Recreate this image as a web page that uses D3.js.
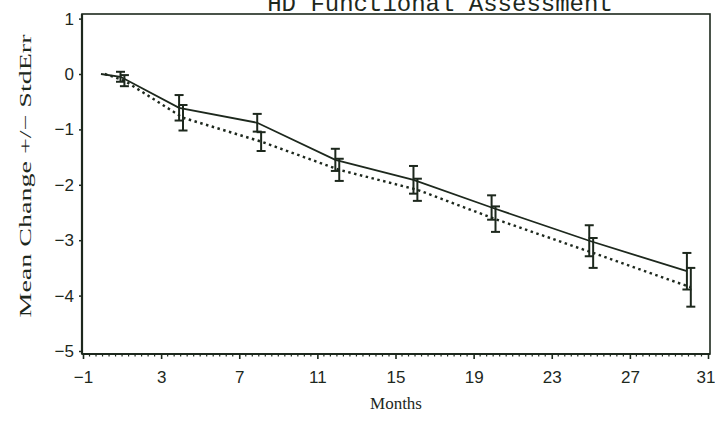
<!DOCTYPE html>
<html>
<head>
<meta charset="utf-8">
<script src="https://cdn.jsdelivr.net/npm/d3@7"></script>
<style>
  html, body { margin: 0; padding: 0; background: #fff; }
  svg { display: block; }
</style>
</head>
<body>
<svg id="chart" width="715" height="421"></svg>
<script>
// ---- data ----
const months = [0, 1, 4, 8, 12, 16, 20, 25, 30];
const solidMean = [0, -0.05, -0.61, -0.88, -1.55, -1.91, -2.41, -3.01, -3.56];
const solidSE   = [0, 0.09, 0.23, 0.16, 0.20, 0.25, 0.22, 0.28, 0.33];
const dottedMean = [0, -0.12, -0.79, -1.22, -1.73, -2.09, -2.62, -3.23, -3.85];
const dottedSE   = [0, 0.10, 0.23, 0.17, 0.20, 0.20, 0.23, 0.27, 0.35];
const xTicks = [-1, 3, 7, 11, 15, 19, 23, 27, 31];
const yTicks = [1, 0, -1, -2, -3, -4, -5];
const titleText = "HD Functional Assessment";
const xLabel = "Months";
const yLabel = "Mean Change +/\u2212 StdErr";

// ---- layout / style ----
const ink = "#1d281d";
const frame = { left: 82, right: 710, top: 14, bottom: 354 };
const svg = d3.select("#chart");

const x = d3.scaleLinear().domain([-1, 31]).range([83, 708]);
const y = d3.scaleLinear().domain([-5, 1]).range([351, 18.6]);

// title (partly cut off at the top, as in the reference)
svg.append("text")
  .attr("x", 440).attr("y", 11)
  .attr("text-anchor", "middle")
  .attr("font-family", "'Courier New', 'Liberation Mono', monospace")
  .attr("font-size", 24)
  .attr("fill", ink)
  .text(titleText);

// frame
svg.append("rect")
  .attr("x", frame.left).attr("y", frame.top)
  .attr("width", frame.right - frame.left).attr("height", frame.bottom - frame.top)
  .attr("fill", "none").attr("stroke", ink).attr("stroke-width", 1.6);
svg.append("line").attr("x1", frame.left).attr("x2", frame.left)
  .attr("y1", frame.top).attr("y2", frame.bottom)
  .attr("stroke", ink).attr("stroke-width", 2.2);
svg.append("line").attr("x1", frame.left).attr("x2", frame.right)
  .attr("y1", frame.bottom).attr("y2", frame.bottom)
  .attr("stroke", ink).attr("stroke-width", 2.2);

// y axis
const yAxis = d3.axisLeft(y).tickValues(yTicks).tickSize(3).tickPadding(5)
  .tickFormat(d => d < 0 ? "\u2212" + Math.abs(d) : String(d));
const gy = svg.append("g").attr("transform", `translate(${frame.left},0)`).call(yAxis);
gy.select(".domain").remove();
gy.selectAll("line").attr("stroke", ink).attr("stroke-width", 1.5);
gy.selectAll("text").attr("font-family", "'Liberation Sans', Arial, sans-serif")
  .attr("font-size", 17).attr("fill", ink);

// x axis minor ticks (every 1/3 month)
const minor = d3.range(-1, 31.001, 1 / 3).filter(v => Math.abs((v + 1) / 4 - Math.round((v + 1) / 4)) > 1e-6);
svg.append("g").selectAll("line").data(minor).join("line")
  .attr("x1", d => x(d)).attr("x2", d => x(d))
  .attr("y1", frame.bottom).attr("y2", frame.bottom + 2.5)
  .attr("stroke", ink).attr("stroke-width", 1.2);

// x axis major ticks
const xAxis = d3.axisBottom(x).tickValues(xTicks).tickSize(5).tickPadding(12)
  .tickFormat(d => d < 0 ? "\u2212" + Math.abs(d) : String(d));
const gx = svg.append("g").attr("transform", `translate(0,${frame.bottom})`).call(xAxis);
gx.select(".domain").remove();
gx.selectAll("line").attr("stroke", ink).attr("stroke-width", 1.6);
gx.selectAll("text").attr("font-family", "'Liberation Sans', Arial, sans-serif")
  .attr("font-size", 17).attr("fill", ink);
gx.selectAll(".tick").filter(d => d === 31).select("text").attr("text-anchor", "end").attr("dx", 7);

// axis titles
svg.append("text")
  .attr("x", 396).attr("y", 409)
  .attr("text-anchor", "middle")
  .attr("font-family", "'Liberation Serif', 'Times New Roman', serif")
  .attr("font-size", 17).attr("fill", ink)
  .text(xLabel);

svg.append("text")
  .attr("transform", "translate(31,176) rotate(-90)")
  .attr("text-anchor", "middle")
  .attr("font-family", "'Liberation Serif', 'Times New Roman', serif")
  .attr("font-size", 17).attr("fill", ink)
  .attr("textLength", 283).attr("lengthAdjust", "spacingAndGlyphs")
  .text(yLabel);

// series
const series = [
  { mean: solidMean, se: solidSE, shift: -0.08, dash: null, width: 1.8 },
  { mean: dottedMean, se: dottedSE, shift: 0.12, dash: "2.5,3.5", width: 2.4 }
];
const capHalf = 4.5;

series.forEach(s => {
  const pts = months.map((m, i) => ({ m: m + s.shift, v: s.mean[i], e: s.se[i] }));
  const line = d3.line().x(d => x(d.m)).y(d => y(d.v));
  svg.append("path").datum(pts)
    .attr("d", line)
    .attr("fill", "none").attr("stroke", ink)
    .attr("stroke-width", s.width)
    .attr("stroke-dasharray", s.dash);

  const bars = svg.append("g").selectAll("g").data(pts.filter(d => d.e > 0)).join("g");
  bars.append("line")
    .attr("x1", d => x(d.m)).attr("x2", d => x(d.m))
    .attr("y1", d => y(d.v + d.e)).attr("y2", d => y(d.v - d.e))
    .attr("stroke", ink).attr("stroke-width", 2);
  [1, -1].forEach(sign => {
    bars.append("line")
      .attr("x1", d => x(d.m) - capHalf).attr("x2", d => x(d.m) + capHalf)
      .attr("y1", d => y(d.v + sign * d.e)).attr("y2", d => y(d.v + sign * d.e))
      .attr("stroke", ink).attr("stroke-width", 2);
  });
});
</script>
</body>
</html>
